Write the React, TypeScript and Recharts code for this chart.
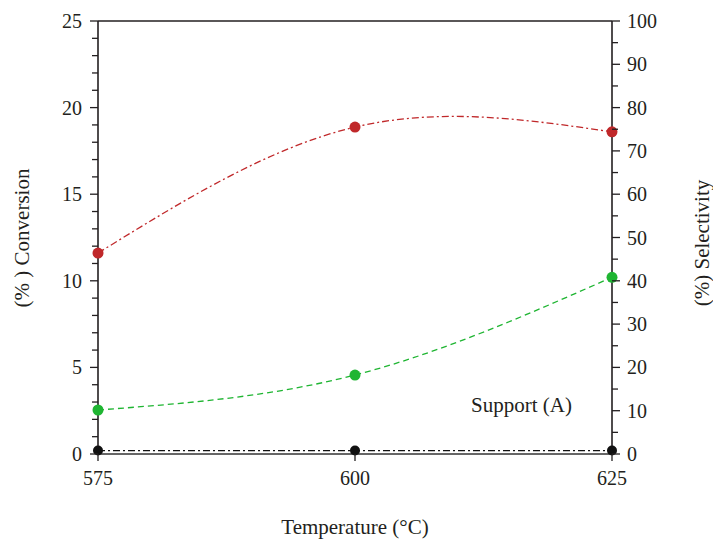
import React from "react";
import {
  LineChart,
  Line,
  XAxis,
  YAxis,
  ReferenceLine,
} from "recharts";

// temperature in °C
const temperatures = [575, 600, 625];
// red series, read against the right axis (%)
const selectivityRed = [46.4, 75.5, 74.4];
// green and black series, read against the left axis (%)
const conversionGreen = [2.54, 4.56, 10.2];
const conversionBlack = [0.2, 0.2, 0.2];

const xTicks = [575, 600, 625];
const leftTicks = [0, 1, 2, 3, 4, 5, 6, 7, 8, 9, 10, 11, 12, 13, 14, 15, 16, 17, 18, 19, 20, 21, 22, 23, 24, 25];
const rightTicks = [0, 5, 10, 15, 20, 25, 30, 35, 40, 45, 50, 55, 60, 65, 70, 75, 80, 85, 90, 95, 100];

const data = temperatures.map((t, i) => ({
  t,
  red: selectivityRed[i],
  green: conversionGreen[i],
  black: conversionBlack[i],
}));

const FONT = '"Liberation Serif", "Times New Roman", serif';
const INK = "#231f20";
const RED = "#c0282a";
const GREEN = "#1fb532";

const LeftTick = (props: any) => {
  const { x, y, payload } = props;
  const major = payload.value % 5 === 0;
  return (
    <g>
      <line x1={x} x2={x - (major ? 8 : 6)} y1={y} y2={y} stroke={INK} strokeWidth={1.3} />
      {major && (
        <text x={x - 16} y={y} textAnchor="end" dominantBaseline="central" fontSize={20} fontFamily={FONT} fill={INK}>
          {payload.value}
        </text>
      )}
    </g>
  );
};

const RightTick = (props: any) => {
  const { x, y, payload } = props;
  const major = payload.value % 10 === 0;
  return (
    <g>
      <line x1={x} x2={x + (major ? 8 : 6)} y1={y} y2={y} stroke={INK} strokeWidth={1.3} />
      {major && (
        <text x={x + 15} y={y} textAnchor="start" dominantBaseline="central" fontSize={20} fontFamily={FONT} fill={INK}>
          {payload.value}
        </text>
      )}
    </g>
  );
};

const BottomTick = (props: any) => {
  const { x, y, payload } = props;
  return (
    <g>
      <line x1={x} x2={x} y1={y} y2={y + 7} stroke={INK} strokeWidth={1.3} />
      <text x={x} y={y + 24} textAnchor="middle" dominantBaseline="central" fontSize={20} fontFamily={FONT} fill={INK}>
        {payload.value}
      </text>
    </g>
  );
};

export default function App() {
  return (
    <div style={{ position: "relative", width: 713, height: 541, background: "#fff" }}>
      <style>{`body{margin:0}`}</style>
      <LineChart
        width={713}
        height={541}
        data={data}
        margin={{ top: 21, right: 0, left: 0, bottom: 0 }}
      >
        <XAxis
          dataKey="t"
          type="number"
          domain={[575, 625]}
          ticks={xTicks}
          height={87}
          axisLine={{ stroke: "#666", strokeWidth: 2.2 }}
          tickLine={false}
          tickSize={0}
          tickMargin={0}
          tick={<BottomTick />}
          interval={0}
        />
        <YAxis
          yAxisId="left"
          orientation="left"
          domain={[0, 25]}
          ticks={leftTicks}
          width={98}
          axisLine={{ stroke: INK, strokeWidth: 1.6 }}
          tickLine={false}
          tickSize={0}
          tickMargin={0}
          tick={<LeftTick />}
          interval={0}
        />
        <YAxis
          yAxisId="right"
          orientation="right"
          domain={[0, 100]}
          ticks={rightTicks}
          width={101}
          axisLine={{ stroke: INK, strokeWidth: 1.6 }}
          tickLine={false}
          tickSize={0}
          tickMargin={0}
          tick={<RightTick />}
          interval={0}
        />
        <ReferenceLine yAxisId="left" y={25} stroke={INK} strokeWidth={1.6} />
        <Line
          yAxisId="right"
          dataKey="red"
          type="natural"
          stroke={RED}
          strokeWidth={1.3}
          strokeDasharray="7 3 2 3"
          dot={{ r: 5.5, fill: RED, stroke: RED, strokeWidth: 0 }}
          isAnimationActive={false}
        />
        <Line
          yAxisId="left"
          dataKey="green"
          type="natural"
          stroke={GREEN}
          strokeWidth={1.3}
          strokeDasharray="6 4"
          dot={{ r: 5.5, fill: GREEN, stroke: GREEN, strokeWidth: 0 }}
          isAnimationActive={false}
        />
        <Line
          yAxisId="left"
          dataKey="black"
          type="linear"
          stroke="#111"
          strokeWidth={1.3}
          strokeDasharray="7 3 2 3"
          dot={{ r: 5, fill: "#111", stroke: "#111", strokeWidth: 0 }}
          isAnimationActive={false}
        />
      </LineChart>
      <svg
        width={713}
        height={541}
        style={{ position: "absolute", left: 0, top: 0, pointerEvents: "none" }}
      >
        <text x={22} y={238} transform="rotate(-90 22 238)" textAnchor="middle" dominantBaseline="central" fontSize={21} fontFamily={FONT} fill={INK}>
          (% ) Conversion
        </text>
        <text x={702} y={243} transform="rotate(-90 702 243)" textAnchor="middle" dominantBaseline="central" fontSize={21} fontFamily={FONT} fill={INK}>
          (%) Selectivity
        </text>
        <text x={355} y={527} textAnchor="middle" dominantBaseline="central" fontSize={21} fontFamily={FONT} fill={INK}>
          Temperature (°C)
        </text>
        <text x={471} y={405} textAnchor="start" dominantBaseline="central" fontSize={21} fontFamily={FONT} fill={INK}>
          Support (A)
        </text>
      </svg>
    </div>
  );
}
